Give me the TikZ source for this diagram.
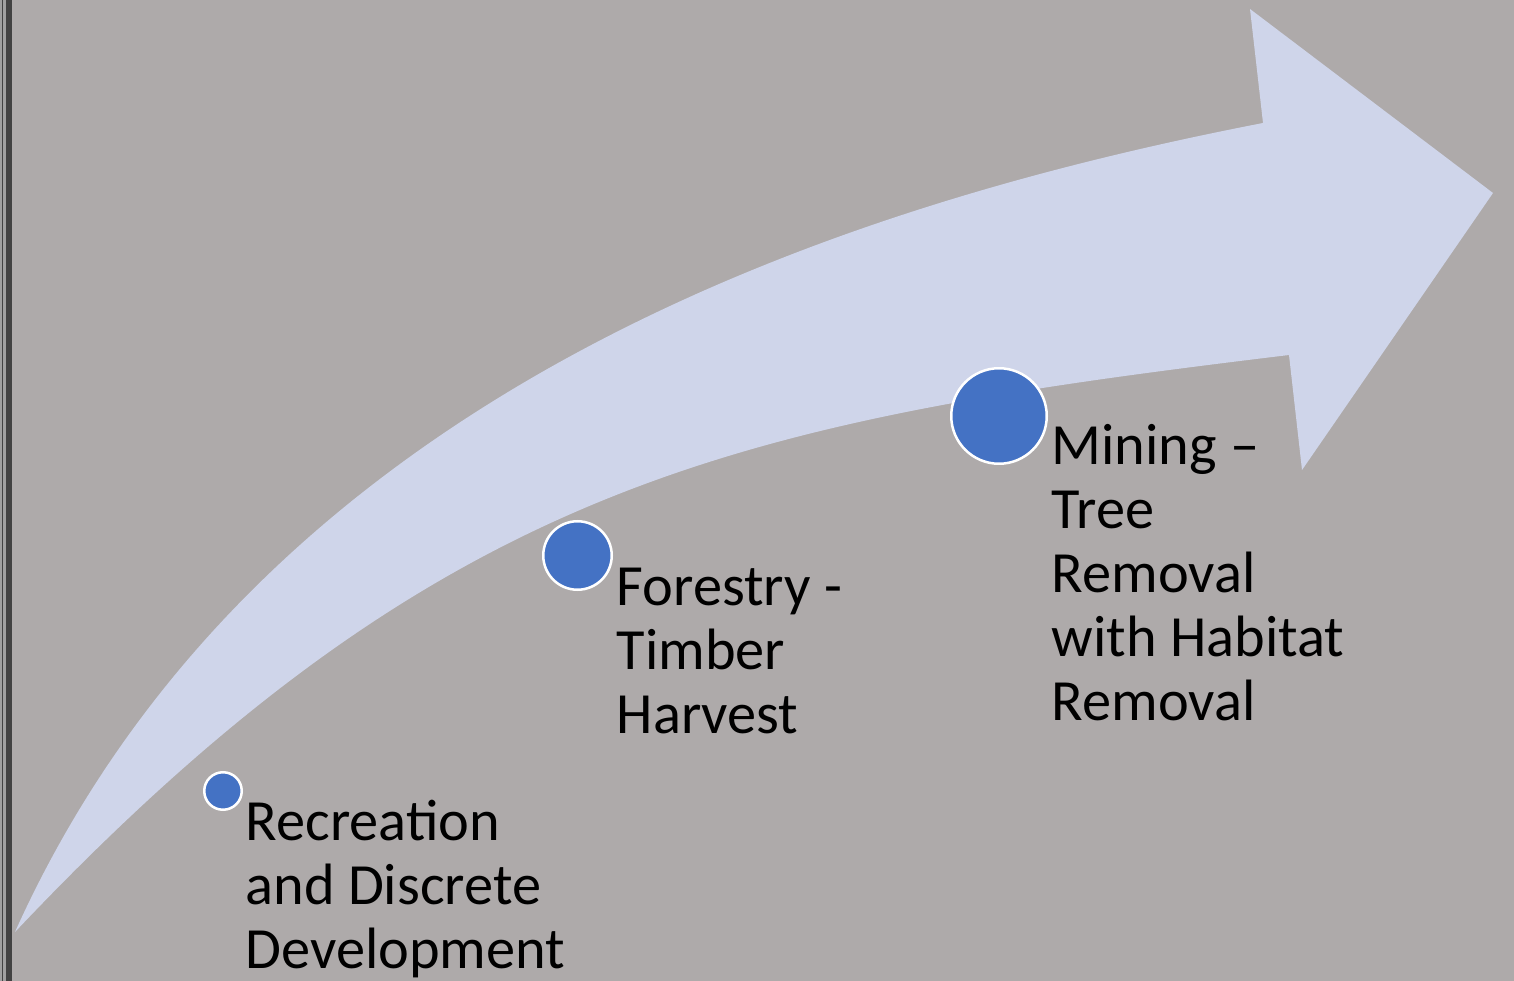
\documentclass[tikz,border=0pt]{standalone}
\usepackage{fontspec}
\setmainfont{Carlito}
\usepackage{xcolor}
\usepackage{tikz}
\definecolor{slidegray}{RGB}{174, 170, 170}
\definecolor{arrowfill}{RGB}{207, 213, 234}
\definecolor{dotblue}{RGB}{68, 114, 196}
\definecolor{framedark}{RGB}{66, 66, 66}
\definecolor{framelight}{RGB}{160, 160, 160}

\begin{document}
\begin{tikzpicture}[x=0.1mm, y=-0.1mm, every node/.style={font=\fontsize{16.6}{18.2}\selectfont},
    stagedot/.style={circle, draw=white, line width=0.25mm, fill=dotblue, inner sep=0pt},
    stagetext/.style={anchor=base west, align=left, inner sep=0pt}]
    % slide background and frame edge
    \fill[slidegray] (0,0) rectangle (1514,981);
    \fill[framelight] (0,0) rectangle (6,981);
    \fill[framedark] (1.7,0) rectangle (2.7,981);
    \fill[framedark] (6,0) rectangle (12,981);
    \useasboundingbox (0,0) rectangle (1514,981);

    % curved arrow
    \fill[arrowfill] (15,932) .. controls (261,386) and (851,203) .. (1263,123)
        -- (1250,9) -- (1493,193) -- (1302,470) -- (1289,355)
        .. controls (743,421) and (443,479) .. (15,932) -- cycle;

    % stages (base anchor sits on the last line)
    \node[stagedot, minimum size=3.75mm] (recdot) at (223,791) {};
    \node[stagedot, minimum size=6.85mm] (fordot) at (577.5,555.5) {};
    \node[stagedot, minimum size=9.55mm] (mindot) at (999,416) {};

    \node[stagetext] (rectext) at (245,968) {Recreation\\and Discrete\\Development};
    \node[stagetext] (fortext) at (616,733) {Forestry -\\Timber\\Harvest};
    \node[stagetext] (mintext) at (1051,720) {Mining --\\Tree\\Removal\\with Habitat\\Removal};
\end{tikzpicture}
\end{document}
